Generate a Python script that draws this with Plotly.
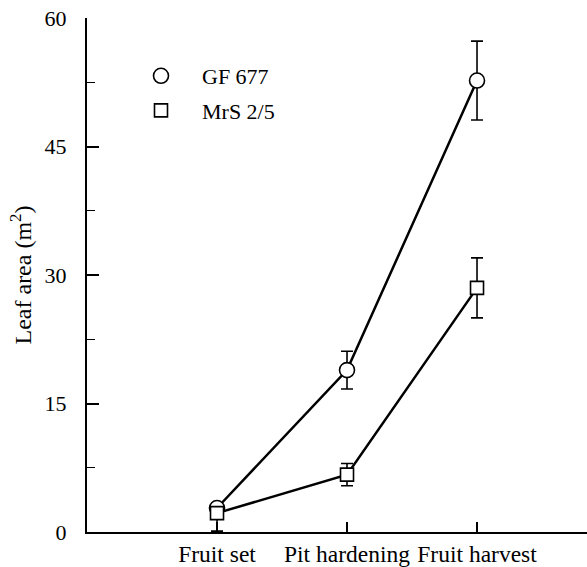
import plotly.graph_objects as go

stages = ["Fruit set", "Pit hardening", "Fruit harvest"]
stage_pos = [1, 2, 3]

gf677 = [2.8, 18.9, 52.7]
gf677_err = [0.0, 2.2, 4.6]

mrs25 = [2.2, 6.7, 28.5]
mrs25_err_plus = [0.0, 1.3, 3.5]
mrs25_err_minus = [2.1, 1.3, 3.5]

y_ticks = [0, 15, 30, 45, 60]

FONT = "Liberation Serif"

fig = go.Figure()

# connecting lines (no legend)
for vals in (gf677, mrs25):
    fig.add_trace(go.Scatter(
        x=stage_pos, y=vals, mode="lines",
        line=dict(color="black", width=2.5),
        showlegend=False, hoverinfo="skip"))

# markers with error bars
fig.add_trace(go.Scatter(
    x=stage_pos, y=gf677, mode="markers", name="GF 677", legendgroup="a",
    marker=dict(symbol="circle", size=15, color="white",
                line=dict(color="black", width=1.6)),
    error_y=dict(type="data", array=gf677_err, visible=True,
                 color="black", thickness=1.6, width=6)))
fig.add_trace(go.Scatter(
    x=stage_pos, y=mrs25, mode="markers", name="MrS 2/5", legendgroup="b",
    marker=dict(symbol="square", size=13, color="white",
                line=dict(color="black", width=1.6)),
    error_y=dict(type="data", array=mrs25_err_plus,
                 arrayminus=mrs25_err_minus, symmetric=False, visible=True,
                 color="black", thickness=1.6, width=6)))

fig.update_layout(
    width=587, height=567,
    margin=dict(l=87, r=0, t=18, b=35),
    paper_bgcolor="white", plot_bgcolor="white",
    font=dict(family=FONT, size=22, color="black"),
    showlegend=True,
    legend=dict(x=0.066, y=0.928, xanchor="left", yanchor="top",
                traceorder="grouped", tracegroupgap=3,
                font=dict(family=FONT, size=22, color="black"),
                bgcolor="rgba(0,0,0,0)", itemwidth=72),
    xaxis=dict(range=[0, 3.846], tickmode="array", tickvals=stage_pos,
               ticktext=stages, ticks="inside", ticklen=10, tickwidth=1.5,
               tickcolor="black", showline=True, linecolor="black",
               linewidth=2, showgrid=False, zeroline=False, automargin=False,
               tickfont=dict(family=FONT, size=23.5)),
    yaxis=dict(range=[0, 60], tickmode="array", tickvals=y_ticks,
               ticks="inside", ticklen=12, tickwidth=1.5, tickcolor="black",
               minor=dict(dtick=7.5, tick0=0, ticks="inside", ticklen=8,
                          tickwidth=1.2, tickcolor="black", showgrid=False),
               showline=True, linecolor="black", linewidth=2,
               showgrid=False, zeroline=False, ticklabelstandoff=14,
               automargin=False,
               tickfont=dict(family=FONT, size=22),
               title=dict(text="Leaf area (m<sup>2</sup>)",
                          font=dict(family=FONT, size=24), standoff=6)),
)

# remove the default 8px page margin so the figure fills the window exactly
fig.write_html("out.html", config={"displayModeBar": False},
               post_script="document.body.style.margin='0px';")
